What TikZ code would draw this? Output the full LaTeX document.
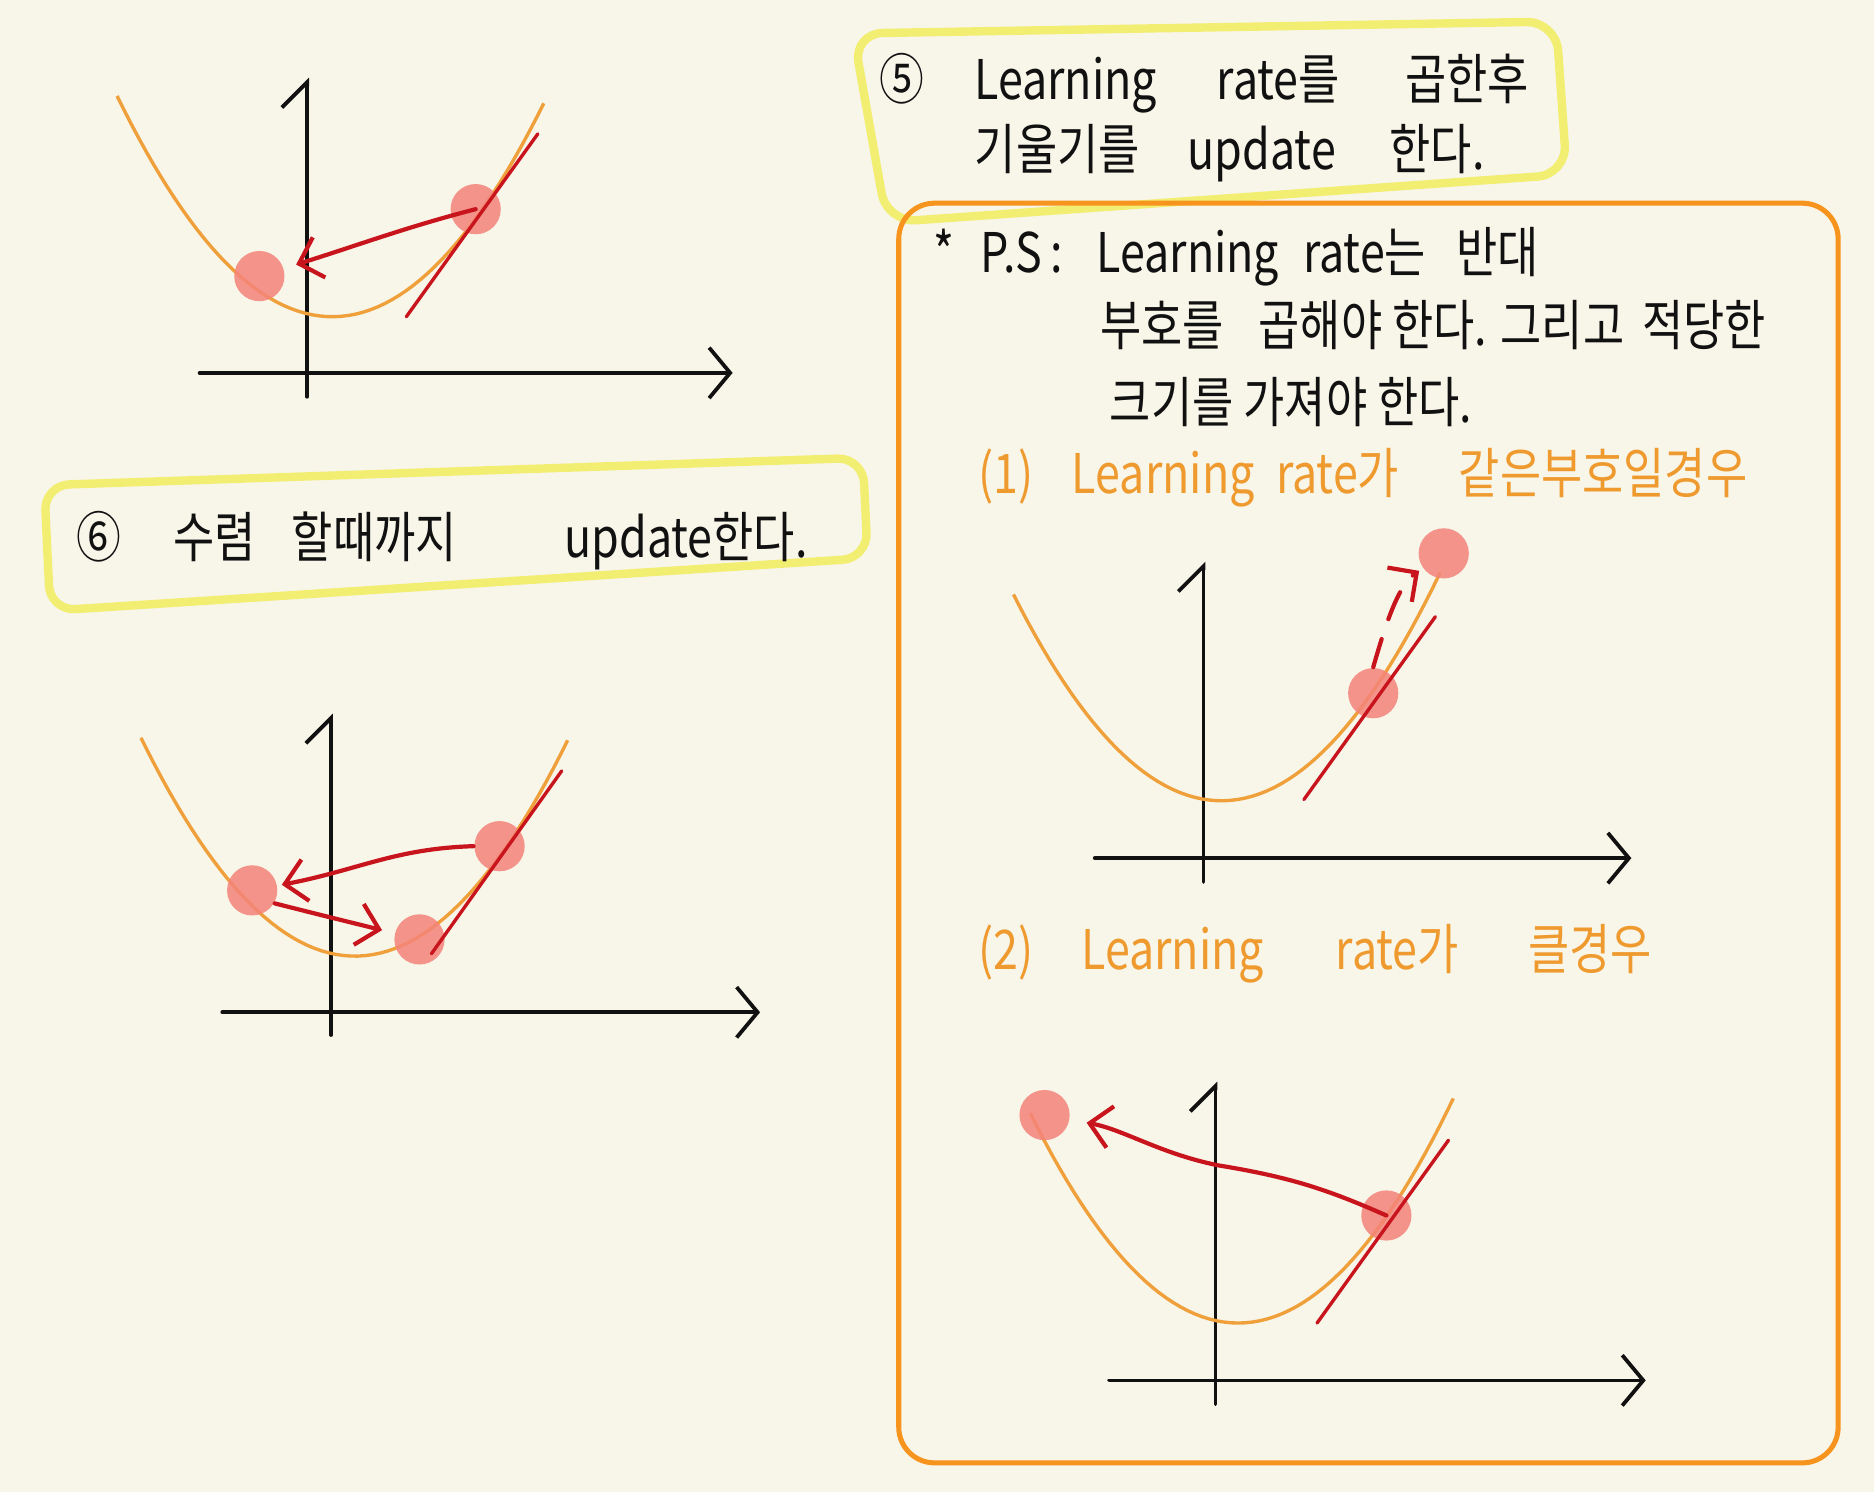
\documentclass[tikz,border=0pt]{standalone}
\usepackage{fontspec}
\setmainfont{Noto Sans CJK KR}[FakeStretch=0.82]
\usepackage{xcolor}
\usepackage{tikz}
\usetikzlibrary{arrows.meta,positioning}
\definecolor{GDPaper} {HTML}{F8F5E9}
\definecolor{GDInk}   {HTML}{111111}
\definecolor{GDCurve} {HTML}{EFA03A}
\definecolor{GDRed}   {HTML}{C8141C}
\definecolor{GDBall}  {HTML}{F4837A}
\definecolor{GDYellow}{HTML}{F2EE72}
\definecolor{GDFrame} {HTML}{F7941E}
\definecolor{GDLabel} {HTML}{EF9A2E}

\begin{document}
\begin{tikzpicture}[x=0.01cm,y=-0.01cm,
    axis/.style={line width=0.9pt,GDInk,line cap=round},
    yaxis/.style={axis,-{Straight Barb[left,length=6pt,width=12pt]}},
    xaxis/.style={axis,-{Straight Barb[length=5pt,width=12pt]}},
    curve/.style={line width=0.8pt,GDCurve},
    tangent/.style={line width=0.8pt,GDRed,line cap=round},
    ball/.style={circle,fill=GDBall,fill opacity=0.85,minimum size=0.42cm,inner sep=0pt},
    move/.style={line width=1pt,GDRed,line cap=round,-{Straight Barb[length=5pt,width=10pt]}},
    hilite/.style={line width=2pt,GDYellow,line join=round},
    note/.style={anchor=west,inner sep=0pt,text=GDInk,font=\fontsize{13}{15}\selectfont},
    case/.style={note,text=GDLabel}]
    \fill[GDPaper] (0,0) rectangle (1568,1248);
    \useasboundingbox (0,0) rectangle (1568,1248);

    % highlighted steps
    \draw[hilite,rounded corners=7pt] (714,28) -- (1302,18) -- (1311,146) -- (742,186) -- cycle;
    \draw[hilite,rounded corners=6pt] (37,406) -- (722,383) -- (726,467) -- (42,511) -- cycle;
    \draw[line width=1.2pt,GDFrame,rounded corners=8.5pt] (752,170) rectangle (1538,1224);

    \node[note] (step5a) at (735,70) {⑤\hspace{0.42cm}Learning\hspace{0.5cm}rate를\hspace{0.55cm}곱한후};
    \node[note] (step5b) at (815,128) {기울기를\hspace{0.4cm}update\hspace{0.45cm}한다.};
    \node[note] (step6) at (63,452) {⑥\hspace{0.44cm}수렴\hspace{0.3cm}할때까지\hspace{0.9cm}update한다.};

    % p.s note
    \node[note] (ps1) at (780,215) {*\hspace{0.22cm}P.S\hspace{0.07cm}:\hspace{0.28cm}Learning\hspace{0.2cm}rate는\hspace{0.25cm}반대};
    \node[note] (ps2) at (920,272) {부호를\hspace{0.29cm}곱해야 한다. 그리고\hspace{0.15cm}적당한};
    \node[note] (ps3) at (928,336) {크기를 가져야 한다.};
    \node[case] (case1) at (818,400) {(1)\hspace{0.32cm}Learning\hspace{0.18cm}rate가\hspace{0.5cm}같은부호일경우};
    \node[case] (case2) at (818,798) {(2)\hspace{0.4cm}Learning\hspace{0.6cm}rate가\hspace{0.58cm}클경우};

    % graph: one step
    \coordinate (x1s) at (167,312); \coordinate (x1e) at (613,312);
    \coordinate (y1s) at (257,332); \coordinate (y1e) at (257,65);
    \draw[xaxis] (x1s) -- (x1e);
    \draw[yaxis] (y1s) -- (y1e);
    \draw[curve] plot[domain=98:455,samples=60] (\x,{265-0.57*((\x-278)/10)^2});
    \node[ball] (g1a) at (217,231) {};
    \node[ball] (g1b) at (398,175) {};
    \draw[tangent] (340,265) -- (450,112);
    \draw[move,shorten >=3pt] (g1b.center) .. controls (340,190) and (300,205) .. (g1a);

    % graph: repeat until converge
    \coordinate (x4s) at (186,847); \coordinate (x4e) at (636,847);
    \coordinate (y4s) at (277,866); \coordinate (y4e) at (277,597);
    \draw[xaxis] (x4s) -- (x4e);
    \draw[yaxis] (y4s) -- (y4e);
    \draw[curve] plot[domain=118:475,samples=60] (\x,{800-0.57*((\x-297)/10)^2});
    \node[ball] (g4a) at (211,745) {};
    \node[ball] (g4b) at (351,786) {};
    \node[ball] (g4c) at (418,708) {};
    \draw[tangent] (361,798) -- (470,645);
    \draw[move,shorten >=1pt] (g4c.west) .. controls (330,710) and (300,728) .. (g4a);
    \draw[move,shorten >=3pt] (g4a.-30) .. controls (270,766) .. (g4b);

    % graph: same sign
    \coordinate (x2s) at (916,718); \coordinate (x2e) at (1365,718);
    \coordinate (y2s) at (1007,738); \coordinate (y2e) at (1007,470);
    \draw[xaxis] (x2s) -- (x2e);
    \draw[yaxis] (y2s) -- (y2e);
    \draw[curve] plot[domain=848:1205,samples=60] (\x,{670-0.57*((\x-1022)/10)^2});
    \node[ball] (g2a) at (1149,580) {};
    \node[ball] (g2b) at (1208,463) {};
    \draw[tangent] (1091,669) -- (1201,516);
    \draw[move,dash pattern=on 7pt off 5pt,shorten >=1pt] (g2a.north) .. controls (1160,520) and (1170,490) .. (g2b);

    % graph: too large
    \coordinate (x3s) at (928,1155); \coordinate (x3e) at (1377,1155);
    \coordinate (y3s) at (1017,1175); \coordinate (y3e) at (1017,905);
    \draw[xaxis] (x3s) -- (x3e);
    \draw[yaxis] (y3s) -- (y3e);
    \draw[curve] plot[domain=862:1216,samples=60] (\x,{1107-0.58*((\x-1036)/10)^2});
    \node[ball] (g3a) at (874,933) {};
    \node[ball] (g3b) at (1160,1017) {};
    \draw[tangent] (1102,1107) -- (1212,954);
    \draw[move,shorten >=4pt] (g3b.center) .. controls (1110,995) and (1080,985) .. (1019,975)
      .. controls (970,965) and (940,945) .. (g3a);
\end{tikzpicture}
\end{document}
